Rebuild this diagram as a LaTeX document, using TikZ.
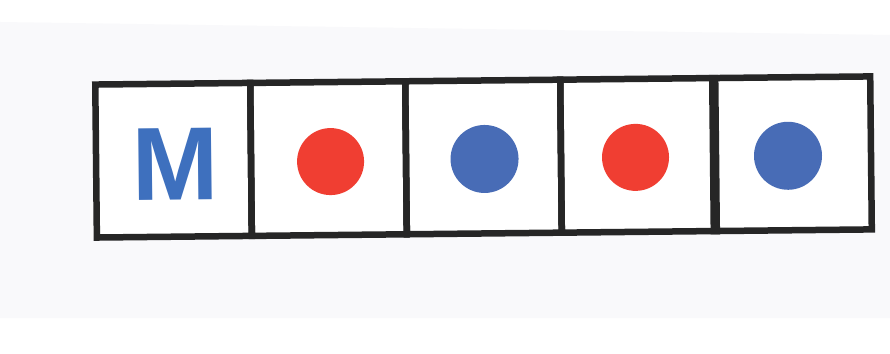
\documentclass[tikz,border=0pt]{standalone}
\usepackage{fontspec}
\setmainfont{Liberation Sans}
\begin{document}
\begin{tikzpicture}[x=1pt,y=-1pt,
  cellbox/.style={draw=black!85, fill=white, line width=6.5pt, minimum width=155pt, minimum height=153pt, inner sep=0pt, outer sep=0pt},
  divider/.style={black!85, line width=6.5pt},
  dotred/.style={circle, fill=dotR, minimum size=67pt, inner sep=0pt},
  dotblue/.style={circle, fill=dotB, minimum size=68pt, inner sep=0pt}]
\definecolor{dotR}{RGB}{240,62,50}
\definecolor{dotB}{RGB}{72,108,182}
\definecolor{letB}{RGB}{62,112,190}
\definecolor{paper}{RGB}{249,249,251}
\useasboundingbox (0,0) rectangle (890,353);
\fill[white] (0,0) rectangle (890,353);
\fill[paper] (0,22) -- (890,35) -- (890,318) -- (0,318) -- cycle;
\begin{scope}[rotate around={0.6:(481,154)}, transform shape]
  \node[cellbox] (c1) at (173.5,157) {};
  \node[cellbox] (c2) at (328.5,157) {};
  \node[cellbox] (c3) at (483.5,157) {};
  \node[cellbox] (c4) at (638.5,157) {};
  \node[cellbox, minimum width=158pt] (c5) at (792,157) {};
  \draw[divider] (c1.south east) -- (c1.north east);
  \draw[divider] (c2.south east) -- (c2.north east);
  \draw[divider] (c3.south east) -- (c3.north east);
  \draw[divider] (c4.south east) -- (c4.north east);
  \node[text=letB, font=\fontsize{104}{104}\selectfont\bfseries] (m) at ([yshift=-4pt,xshift=2pt]c1.center) {M};
  \node[dotred] (d1) at ([yshift=-3pt,xshift=2pt]c2.center) {};
  \node[dotblue] (d2) at ([yshift=-2pt,xshift=1pt]c3.center) {};
  \node[dotred] (d3) at ([yshift=-2pt,xshift=-3pt]c4.center) {};
  \node[dotblue] (d4) at ([yshift=-2pt,xshift=-4pt]c5.center) {};
\end{scope}
\end{tikzpicture}
\end{document}
